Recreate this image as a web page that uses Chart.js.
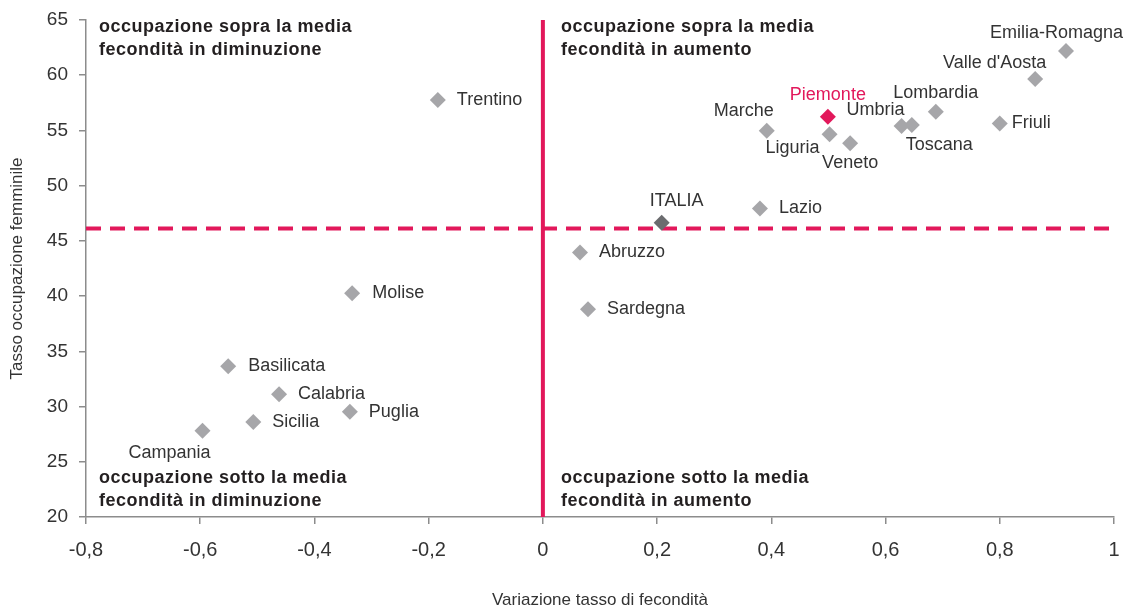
<!DOCTYPE html>
<html>
<head>
<meta charset="utf-8">
<script src="https://cdn.jsdelivr.net/npm/chart.js@4.4.1/dist/chart.umd.min.js"></script>
<style>
  html, body { margin: 0; background: #fff; }
</style>
</head>
<body>
<canvas id="chart" width="1126" height="611"></canvas>
<script>
// ------------------------------------------------------------
// Dati: regioni, variazione fecondità (x), occupazione femminile (y)
// ------------------------------------------------------------
const regioni = ['Trentino', 'Molise', 'Basilicata', 'Calabria', 'Sicilia', 'Puglia', 'Campania',
    'ITALIA', 'Lazio', 'Abruzzo', 'Sardegna', 'Marche', 'Piemonte', 'Liguria', 'Veneto',
    'Umbria', 'Toscana', 'Lombardia', 'Friuli', "Valle d'Aosta", 'Emilia-Romagna'];
const varFecondita = [-0.184, -0.334, -0.551, -0.462, -0.507, -0.338, -0.596,
    0.208, 0.380, 0.065, 0.079, 0.392, 0.499, 0.502, 0.538,
    0.628, 0.646, 0.688, 0.800, 0.862, 0.916];
const tassoOccupazione = [57.75, 40.27, 33.66, 31.12, 28.61, 29.52, 27.80,
    46.64, 47.94, 43.96, 38.80, 54.97, 56.24, 54.65, 53.83,
    55.40, 55.49, 56.70, 55.64, 59.66, 62.19];
const mediaOccupazione = 46.13;   // linea orizzontale tratteggiata
const soglFecondita = 0;          // linea verticale
const xRange = [-0.8, 1];
const yRange = [20, 65];

// dove mettere l'etichetta rispetto al punto: [dx, dy, align]
const labelOffset = [
    [19, 0, 'left'], [20, 0, 'left'], [20, 0, 'left'], [19, 0, 'left'], [19, 0, 'left'], [19, 0, 'left'], [-33, 22, 'center'],
    [15, -22, 'center'], [19, 0, 'left'], [19, 0, 'left'], [19, 0, 'left'], [-23, -20, 'center'], [0, -22, 'center'], [-37, 14, 'center'], [0, 20, 'center'],
    [3, -16, 'right'], [-6, 20, 'left'], [0, -19, 'center'], [12, 0, 'left'], [11, -16, 'right'], [57, -18, 'right']
];

const quadranti = [
    { pos: 'tl', righe: ['occupazione sopra la media', 'fecondità in diminuzione'] },
    { pos: 'tr', righe: ['occupazione sopra la media', 'fecondità in aumento'] },
    { pos: 'bl', righe: ['occupazione sotto la media', 'fecondità in diminuzione'] },
    { pos: 'br', righe: ['occupazione sotto la media', 'fecondità in aumento'] }
];

const PINK = '#e2185b';
const GREY = '#a6a6a9';
const AXIS = '#8c8c8c';
const FONT = "'Liberation Sans', Arial, sans-serif";

const puntoColore = regioni.map(r => r === 'ITALIA' ? '#6b6c6f' : r === 'Piemonte' ? PINK : GREY);

// ------------------------------------------------------------
// Plugin: etichette dei punti e testi dei quadranti
// ------------------------------------------------------------
const etichette = {
    id: 'etichette',
    afterDatasetsDraw(chart) {
        const ctx = chart.ctx;
        const meta = chart.getDatasetMeta(0);
        ctx.save();
        ctx.font = `18px ${FONT}`;
        ctx.textBaseline = 'middle';
        meta.data.forEach((pt, i) => {
            const [dx, dy, align] = labelOffset[i];
            ctx.fillStyle = regioni[i] === 'Piemonte' ? PINK : '#333333';
            ctx.textAlign = align;
            ctx.fillText(regioni[i], pt.x + dx, pt.y + dy);
        });

        const { left, top, bottom } = chart.chartArea;
        const x0 = chart.scales.x.getPixelForValue(soglFecondita);
        ctx.font = `bold 18px ${FONT}`;
        ctx.letterSpacing = '0.5px';
        ctx.fillStyle = '#231f20';
        ctx.textAlign = 'left';
        quadranti.forEach(q => {
            const x = q.pos[1] === 'l' ? left + 13 : x0 + 18;
            const y = q.pos[0] === 't' ? top + 7 : bottom - 39;
            q.righe.forEach((t, k) => ctx.fillText(t, x, y + k * 23));
        });
        ctx.restore();
    }
};

const fmt = v => Number(v.toFixed(1)).toLocaleString('it-IT');
// dimensioni fisse degli assi, senza padding automatico
const fitX = s => { s.height = 94; s.paddingLeft = 0; s.paddingRight = 0; };
const fitY = s => { s.width = 86; s.paddingTop = 0; s.paddingBottom = 0; };

new Chart(document.getElementById('chart'), {
    type: 'scatter',
    data: {
        datasets: [
            {
                data: varFecondita.map((x, i) => ({ x, y: tassoOccupazione[i] })),
                backgroundColor: puntoColore,
                borderWidth: 0,
                pointStyle: 'rectRot',
                pointRadius: 8,
                pointHoverRadius: 8,
                order: 0
            },
            {
                type: 'line',
                data: [{ x: xRange[0], y: mediaOccupazione }, { x: xRange[1], y: mediaOccupazione }],
                borderColor: PINK,
                borderWidth: 4,
                borderDash: [15, 9],
                pointRadius: 0,
                order: 1
            },
            {
                type: 'line',
                data: [{ x: soglFecondita, y: yRange[0] }, { x: soglFecondita, y: yRange[1] }],
                borderColor: PINK,
                borderWidth: 4,
                pointRadius: 0,
                order: 1
            }
        ]
    },
    options: {
        responsive: false,
        animation: false,
        events: [],
        layout: { padding: { top: 20, right: 12, left: 0, bottom: 0 } },
        plugins: { legend: { display: false }, tooltip: { enabled: false } },
        scales: {
            x: {
                type: 'linear',
                min: xRange[0], max: xRange[1],
                afterFit: fitX,
                ticks: { stepSize: 0.2, padding: 14, color: '#333', font: { family: FONT, size: 20 }, callback: fmt },
                grid: { drawOnChartArea: false, tickLength: 7, color: AXIS, lineWidth: 1.5 },
                border: { color: AXIS, width: 1.5 },
                title: { display: true, text: 'Variazione tasso di fecondità', color: '#333', font: { family: FONT, size: 17 }, padding: { top: 0, bottom: 0 } }
            },
            y: {
                min: yRange[0], max: yRange[1],
                afterFit: fitY,
                ticks: { stepSize: 5, padding: 11, color: '#333', font: { family: FONT, size: 19 } },
                grid: { drawOnChartArea: false, tickLength: 7, color: AXIS, lineWidth: 1.5 },
                border: { color: AXIS, width: 1.5 },
                title: { display: true, text: 'Tasso occupazione femminile', color: '#333', font: { family: FONT, size: 17 }, padding: { top: 7, bottom: 0 } }
            }
        }
    },
    plugins: [etichette]
});
</script>
</body>
</html>
